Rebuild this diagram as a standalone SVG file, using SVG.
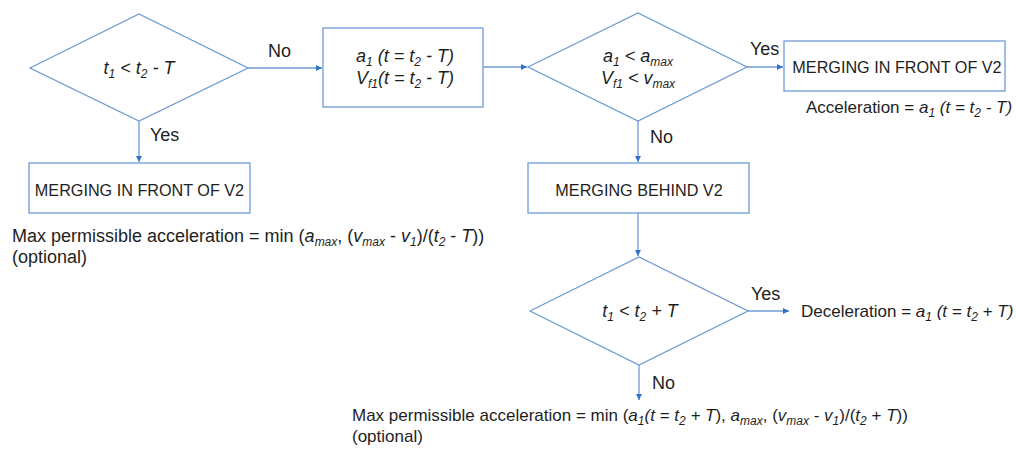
<svg xmlns="http://www.w3.org/2000/svg" width="1016" height="450" viewBox="0 0 1016 450">
<defs>
<marker id="ah" viewBox="0 0 6 6" refX="6" refY="3" markerWidth="6" markerHeight="6" orient="auto" markerUnits="userSpaceOnUse"><path d="M0,0 L6,3 L0,6 z" fill="#2f73c9"/></marker>
<style>
.shape{fill:#fff;stroke:#6e9bd4;stroke-width:1.3}
.conn{fill:none;stroke:#6e9bd4;stroke-width:1.3;marker-end:url(#ah)}
text{font-family:"Liberation Sans",Arial,sans-serif;font-size:18px;fill:#1e1e1e}
.c{text-anchor:middle}
.i{font-style:italic}
.s{font-size:12px}
.cap{font-size:16.2px;text-anchor:middle}
.r{font-size:17px}
</style>
</defs>
<rect width="1016" height="450" fill="#fff"/>
<g id="connectors">
<line class="conn" x1="248" y1="68" x2="322" y2="68"/>
<line class="conn" x1="483" y1="67" x2="527" y2="67"/>
<line class="conn" x1="747" y1="67" x2="783" y2="67"/>
<line class="conn" x1="139" y1="121" x2="139" y2="162"/>
<line class="conn" x1="638" y1="121" x2="638" y2="162"/>
<line class="conn" x1="638" y1="213" x2="638" y2="256"/>
<line class="conn" x1="748" y1="311" x2="789" y2="311"/>
<line class="conn" x1="639" y1="365" x2="639" y2="400"/>
<text x="268" y="57">No</text>
<text x="750" y="55">Yes</text>
<text x="150" y="141">Yes</text>
<text x="650" y="143">No</text>
<text x="751" y="300">Yes</text>
<text x="652" y="389">No</text>
</g>
<g id="decision1">
<polygon class="shape" points="30,68 139,14 248,68 139,121"/>
<text class="c i" x="139" y="74">t<tspan class="s" dy="4">1</tspan><tspan dy="-4"> &lt; t</tspan><tspan class="s" dy="4">2</tspan><tspan dy="-4"> - T</tspan></text>
</g>
<g id="compute">
<rect class="shape" x="323" y="28" width="160" height="79"/>
<text class="c i" x="405" y="62">a<tspan class="s" dy="4">1</tspan><tspan dy="-4"> (t = t</tspan><tspan class="s" dy="4">2</tspan><tspan dy="-4"> - T)</tspan></text>
<text class="c i" x="405" y="84">V<tspan class="s" dy="4">f1</tspan><tspan dy="-4">(t = t</tspan><tspan class="s" dy="4">2</tspan><tspan dy="-4"> - T)</tspan></text>
</g>
<g id="decision2">
<polygon class="shape" points="528,67 638,13 747,67 638,121"/>
<text class="c i" x="638" y="62">a<tspan class="s" dy="4">1</tspan><tspan dy="-4"> &lt; a</tspan><tspan class="s" dy="4">max</tspan></text>
<text class="c i" x="638" y="84">V<tspan class="s" dy="4">f1</tspan><tspan dy="-4"> &lt; v</tspan><tspan class="s" dy="4">max</tspan></text>
</g>
<g id="front2">
<rect class="shape" x="784" y="41" width="221" height="50"/>
<text class="cap" x="897" y="73">MERGING IN FRONT OF V2</text>
<text class="r" x="806" y="113">Acceleration = <tspan class="i">a</tspan><tspan class="s i" dy="4">1</tspan><tspan class="i" dy="-4"> (t = t</tspan><tspan class="s i" dy="4">2</tspan><tspan class="i" dy="-4"> - T)</tspan></text>
</g>
<g id="front1">
<rect class="shape" x="29" y="163" width="221" height="50"/>
<text class="cap" x="139.5" y="196">MERGING IN FRONT OF V2</text>
<text x="12" y="242">Max permissible acceleration = min (<tspan class="i">a</tspan><tspan class="s i" dy="4">max</tspan><tspan dy="-4">, (</tspan><tspan class="i">v</tspan><tspan class="s i" dy="4">max</tspan><tspan dy="-4"> - </tspan><tspan class="i">v</tspan><tspan class="s i" dy="4">1</tspan><tspan dy="-4">)/(</tspan><tspan class="i">t</tspan><tspan class="s i" dy="4">2</tspan><tspan dy="-4"> - </tspan><tspan class="i">T</tspan>))</text>
<text x="12" y="263">(optional)</text>
</g>
<g id="behind">
<rect class="shape" x="528" y="163" width="221" height="50"/>
<text class="cap" x="639" y="196">MERGING BEHIND V2</text>
</g>
<g id="decision3">
<polygon class="shape" points="530,311 639,257 748,311 639,365"/>
<text class="c i" x="640" y="317">t<tspan class="s" dy="4">1</tspan><tspan dy="-4"> &lt; t</tspan><tspan class="s" dy="4">2</tspan><tspan dy="-4"> + T</tspan></text>
</g>
<g id="decel">
<text class="r" x="801" y="317">Deceleration = <tspan class="i">a</tspan><tspan class="s i" dy="4">1</tspan><tspan class="i" dy="-4"> (t = t</tspan><tspan class="s i" dy="4">2</tspan><tspan class="i" dy="-4"> + T)</tspan></text>
</g>
<g id="maxaccel">
<text class="r" x="352" y="421">Max permissible acceleration = min (<tspan class="i">a</tspan><tspan class="s i" dy="4">1</tspan><tspan class="i" dy="-4">(t = t</tspan><tspan class="s i" dy="4">2</tspan><tspan class="i" dy="-4"> + T</tspan>), <tspan class="i">a</tspan><tspan class="s i" dy="4">max</tspan><tspan dy="-4">, (</tspan><tspan class="i">v</tspan><tspan class="s i" dy="4">max</tspan><tspan dy="-4"> - </tspan><tspan class="i">v</tspan><tspan class="s i" dy="4">1</tspan><tspan dy="-4">)/(</tspan><tspan class="i">t</tspan><tspan class="s i" dy="4">2</tspan><tspan dy="-4"> + </tspan><tspan class="i">T</tspan>))</text>
<text class="r" x="352" y="442">(optional)</text>
</g>
</svg>
